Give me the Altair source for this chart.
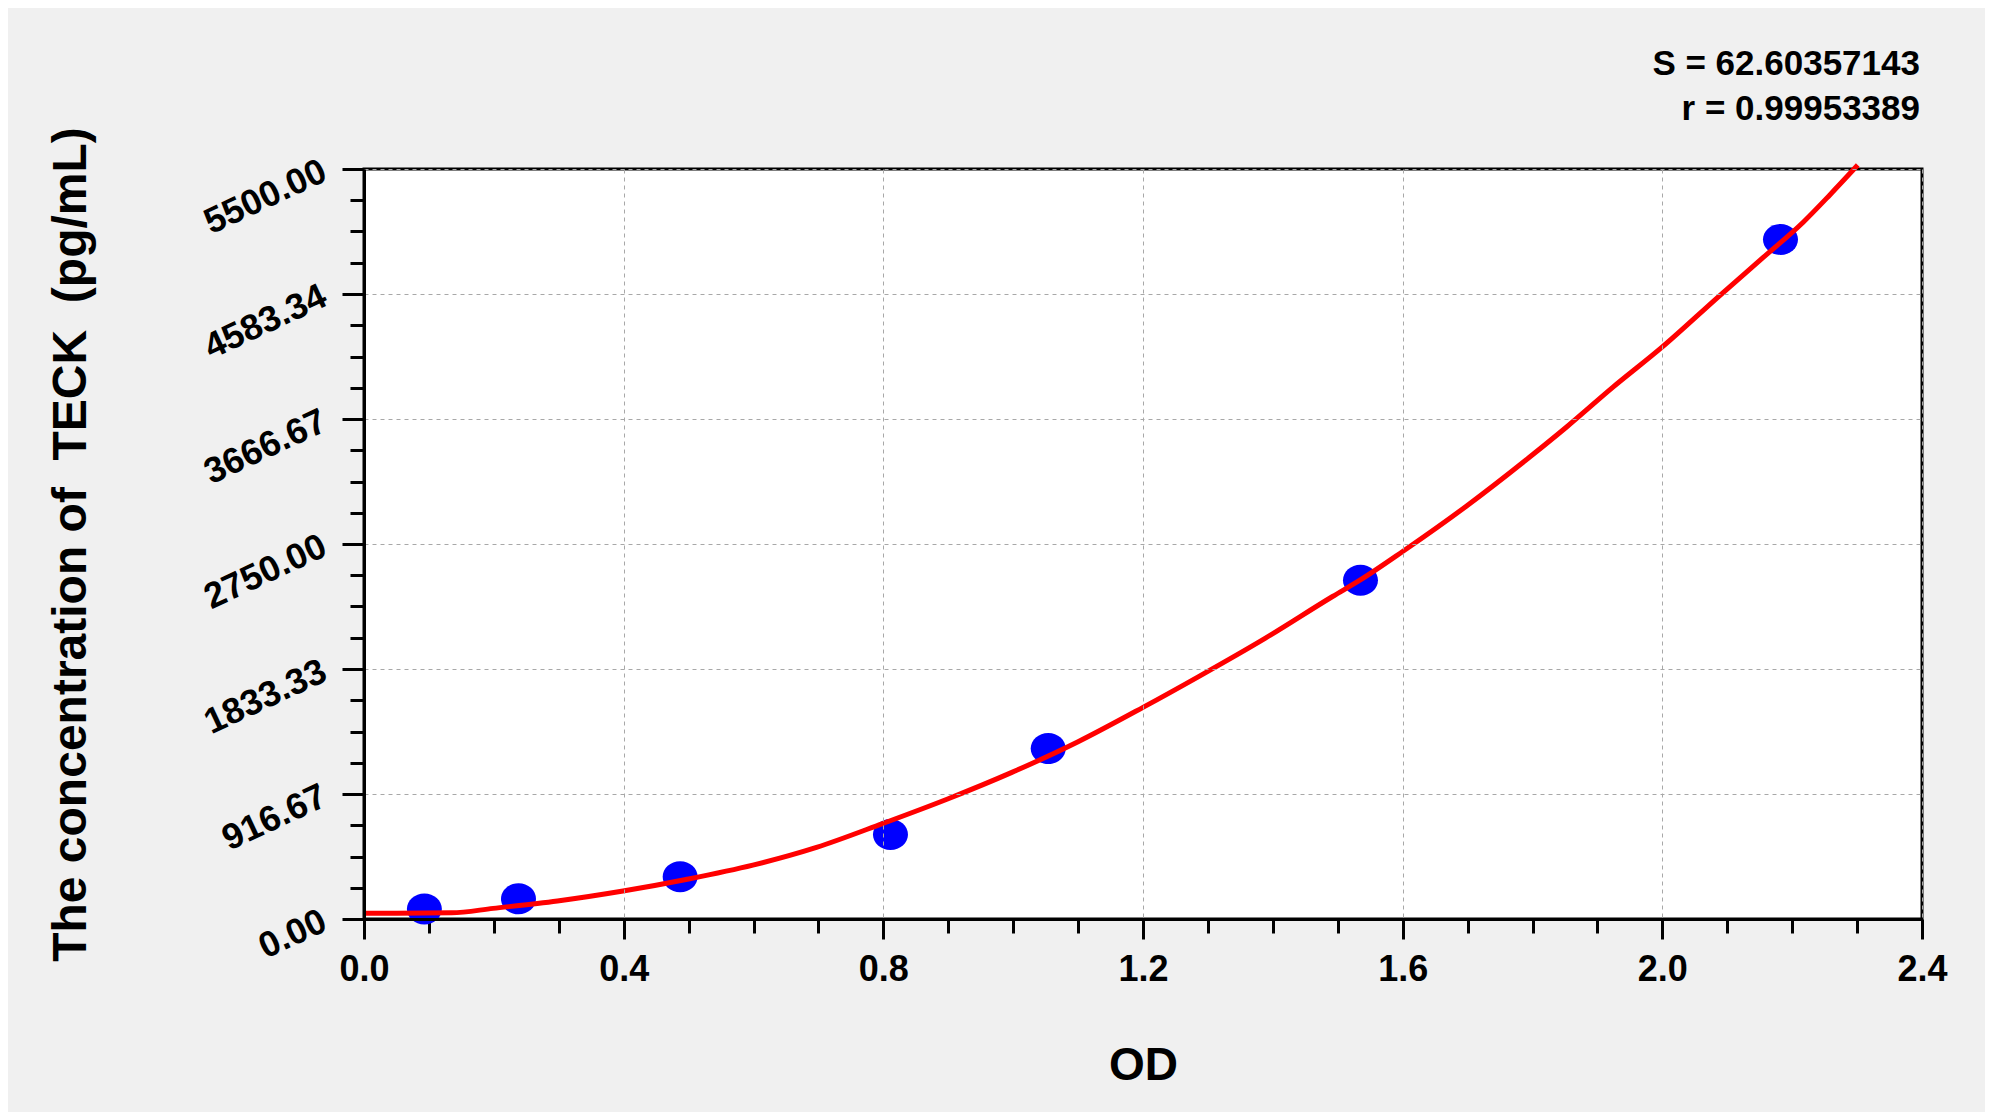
import altair as alt
import pandas as pd

# Standard points (OD vs concentration)
od_pts = [0.093, 0.238, 0.487, 0.811, 1.054, 1.535, 2.182]
conc_pts = [74, 148, 310, 620, 1250, 2485, 4983]

# Fitted curve
curve_od = [0.0, 0.135, 0.199, 0.298, 0.399, 0.496, 0.599, 0.697, 0.799, 0.899,
            0.998, 1.100, 1.200, 1.285, 1.388, 1.492, 1.536, 1.600, 1.698, 1.801,
            1.853, 1.924, 2.000, 2.088, 2.155, 2.217, 2.258, 2.301]
curve_conc = [42, 45, 78, 132, 205, 290, 395, 525, 700, 880,
              1075, 1300, 1552, 1776, 2058, 2365, 2490, 2695, 3027, 3408,
              3610, 3900, 4195, 4570, 4850, 5110, 5310, 5529]

# Tick values
x_major = [0.0, 0.4, 0.8, 1.2, 1.6, 2.0, 2.4]
x_minor = [0.1, 0.2, 0.3, 0.5, 0.6, 0.7, 0.9, 1.0, 1.1, 1.3, 1.4, 1.5,
           1.7, 1.8, 1.9, 2.1, 2.2, 2.3]
y_major = [0.0, 916.67, 1833.33, 2750.0, 3666.67, 4583.34, 5500.0]
y_minor = [229.17, 458.33, 687.5, 1145.83, 1375.0, 1604.17, 2062.5, 2291.67,
           2520.83, 2979.17, 3208.33, 3437.5, 3895.84, 4125.0, 4354.17,
           4812.5, 5041.67, 5270.83]

stats_lines = ["S = 62.60357143", "r = 0.99953389"]
y_title = "The concentration of\u00a0 TECK\u00a0 (pg/mL)"
x_title = "OD"

FONT = "Liberation Sans"
ELLIPSE = "M -1 0 A 1 0.886 0 1 0 1 0 A 1 0.886 0 1 0 -1 0 Z"

pts = pd.DataFrame({"od": od_pts, "conc": conc_pts})
curve = pd.DataFrame({"od": curve_od, "conc": curve_conc})

xs = alt.Scale(domain=[0, 2.4], nice=False, zero=False)
ys = alt.Scale(domain=[0, 5500], nice=False, zero=False)

main_x_axis = alt.Axis(
    values=x_major, format=".1f", orient="bottom",
    tickSize=20, tickWidth=3, tickColor="black",
    domainWidth=3, domainColor="black",
    labelFont=FONT, labelFontSize=36, labelFontWeight="bold", labelColor="black",
    labelPadding=13, labelFlush=False, labelOverlap=False,
    grid=True, gridDash=[4, 4], gridColor="#a8a8a8", gridWidth=1,
    title=x_title, titleFont=FONT, titleFontSize=46, titleFontWeight="bold",
    titleColor="black", titleX=779, titleY=160, titleBaseline="alphabetic",
    titleAlign="center", zindex=1,
)
main_y_axis = alt.Axis(
    values=y_major, format=".2f", orient="left",
    tickSize=22, tickWidth=3, tickColor="black",
    domainWidth=3, domainColor="black",
    labelFont=FONT, labelFontSize=36, labelFontWeight="bold", labelColor="black",
    labelAngle=-25, labelAlign="right", labelBaseline="middle",
    labelPadding=18, labelFlush=False, labelOverlap=False,
    grid=True, gridDash=[4, 4], gridColor="#a8a8a8", gridWidth=1,
    title=y_title, titleFont=FONT, titleFontSize=48,
    titleFontWeight="bold", titleColor="black", titleAngle=-90,
    titleX=-279, titleY=375, titleAlign="center", titleBaseline="alphabetic",
    zindex=1,
)
minor_x_axis = alt.Axis(
    values=x_minor, orient="bottom", tickSize=14, tickWidth=3, tickColor="black",
    labels=False, domain=False, grid=False, title="",
)
minor_y_axis = alt.Axis(
    values=y_minor, orient="left", tickSize=14, tickWidth=3, tickColor="black",
    labels=False, domain=False, grid=False, title="",
)

points = alt.Chart(pts).mark_point(
    shape=ELLIPSE, size=1225, filled=True, color="#0000ff", opacity=1,
    strokeWidth=0,
).encode(
    x=alt.X("od:Q", scale=xs, axis=main_x_axis),
    y=alt.Y("conc:Q", scale=ys, axis=main_y_axis),
)

line = alt.Chart(curve).mark_line(color="#ff0000", strokeWidth=5, clip=False,
                                  interpolate="monotone").encode(
    x=alt.X("od:Q", scale=xs, axis=minor_x_axis),
    y=alt.Y("conc:Q", scale=ys, axis=minor_y_axis),
)

txt_s = alt.Chart(pd.DataFrame({"t": [stats_lines[0]]})).mark_text(
    align="right", baseline="alphabetic", font=FONT, fontSize=35,
    fontWeight="bold", color="black",
).encode(x=alt.value(1556), y=alt.value(-94), text="t:N")

txt_r = alt.Chart(pd.DataFrame({"t": [stats_lines[1]]})).mark_text(
    align="right", baseline="alphabetic", font=FONT, fontSize=35,
    fontWeight="bold", color="black",
).encode(x=alt.value(1556), y=alt.value(-49), text="t:N")

chart = alt.layer(points, line, txt_s, txt_r).resolve_axis(
    x="independent", y="independent"
).properties(
    width=1558, height=750,
    autosize=alt.AutoSizeParams(type="none"),
    padding={"left": 356, "top": 161, "right": 63, "bottom": 193},
    background="#f0f0f0",
).configure_view(
    fill="white", stroke="black", strokeWidth=3,
)

chart.save("out.html", embed_options={"renderer": "svg", "actions": False})
